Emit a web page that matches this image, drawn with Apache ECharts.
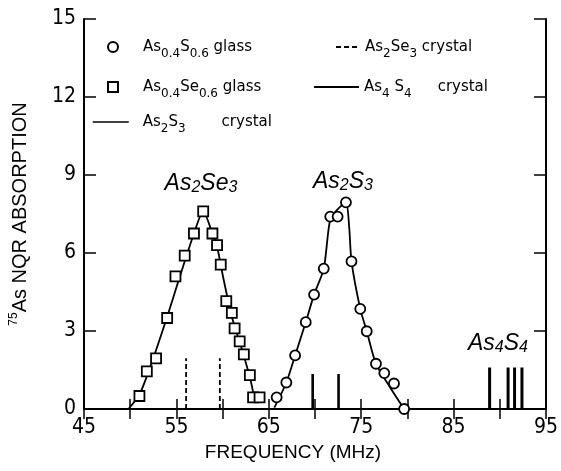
<!DOCTYPE html>
<html>
<head>
<meta charset="utf-8">
<title>75As NQR absorption</title>
<script src="https://cdn.jsdelivr.net/npm/echarts@6/dist/echarts.min.js"></script>
<style>
  html, body { margin: 0; padding: 0; background: #fff; }
  #main { width: 561px; height: 471px; }
</style>
</head>
<body>
<div id="main"></div>
<script>
  // As0.4Se0.6 glass (squares) and the drawn curve through them
  var seGlassFreq = [51.0, 51.8, 52.8, 54.0, 54.9, 55.9, 56.9, 57.9, 58.9, 59.4, 59.8, 60.4, 61.0, 61.3, 61.85, 62.3, 62.95, 63.3, 64.0]
  var seGlassAbs = [0.5, 1.45, 1.95, 3.5, 5.1, 5.9, 6.75, 7.6, 6.75, 6.3, 5.55, 4.15, 3.7, 3.1, 2.6, 2.1, 1.3, 0.45, 0.45]
  var seCurveFreq = [49.8, 51.0, 52.3, 54.0, 55.2, 56.9, 57.9, 58.9, 59.4, 60.1, 61.0, 62.0, 63.0, 63.5]
  var seCurveAbs = [0, 0.55, 1.75, 3.55, 4.9, 6.75, 7.6, 6.75, 6.25, 5.0, 3.55, 2.4, 1.15, 0.3]

  // As0.4S0.6 glass (circles) and its curve
  var sGlassFreq = [65.85, 66.9, 67.85, 69.0, 69.9, 70.95, 71.65, 72.45, 73.35, 73.95, 74.9, 75.6, 76.6, 77.5, 78.55, 79.65]
  var sGlassAbs = [0.45, 1.02, 2.06, 3.34, 4.4, 5.4, 7.4, 7.4, 7.95, 5.68, 3.85, 2.99, 1.74, 1.38, 0.98, 0]
  var sCurveFreq = [65.6, 66.9, 67.85, 69.0, 69.9, 70.95, 71.65, 72.5, 73.35, 73.7, 73.95, 74.9, 75.6, 76.6, 78.1, 79.65]
  var sCurveAbs = [0.05, 1.02, 2.06, 3.34, 4.4, 5.4, 7.3, 7.7, 7.95, 7.0, 5.68, 3.85, 2.99, 1.74, 0.85, 0]

  // crystal lines (position, height)
  var as2se3Freq = [56.05, 59.7]
  var as2se3Height = 1.95
  var as2s3Freq = [69.75, 72.55]
  var as2s3Height = 1.35
  var as4s4Freq = [88.9, 90.9, 91.6, 92.4]
  var as4s4Height = 1.6

  var xMin = 45, xMax = 95, xStep = 5
  var yMin = 0, yMax = 15, yStep = 3

  var numFont = "'Liberation Sans Narrow', 'DejaVu Sans Condensed', sans-serif"
  var titleFont = "'Liberation Sans', Arial, sans-serif"
  var legFont = "'DejaVu Sans', sans-serif"

  function pairs(xs, ys) {
    return xs.map(function(x, i) { return [x, ys[i]] })
  }

  function sticks(name, freqs, h, lineStyle) {
    return freqs.map(function(f) {
      return {
        name: name,
        type: 'line',
        symbol: 'none',
        silent: true,
        color: '#000',
        // hides the marker in the legend icon, keeps the line
        itemStyle: { color: '#000', opacity: 0 },
        lineStyle: lineStyle,
        data: [[f, 0], [f, h]]
      }
    })
  }

  var legendText = {
    'As0.4S0.6 glass': 'As{s|0.4}S{s|0.6} glass',
    'As0.4Se0.6 glass': 'As{s|0.4}Se{s|0.6} glass',
    'As2S3 crystal': 'As{s|2}S{s|3}{g| }crystal',
    'As2Se3 crystal': 'As{s|2}Se{s|3} crystal',
    'As4S4 crystal': 'As{s|4} S{s|4}{h| }crystal'
  }

  function legendBox(name, left, centerY, icon, width, extra) {
    var lg = {
      data: [icon ? { name: name, icon: icon } : { name: name }],
      left: left,
      top: centerY - 13,
      padding: 0,
      itemWidth: width,
      itemHeight: icon ? 10 : 14,
      selectedMode: false,
      formatter: function(n) { return legendText[n] },
      textStyle: {
        fontFamily: legFont,
        fontSize: 15,
        color: '#000',
        lineHeight: 26,
        padding: [0, 0, 0, extra || 0],
        rich: {
          s: { fontFamily: legFont, fontSize: 12, lineHeight: 12, verticalAlign: 'bottom', color: '#000' },
          g: { width: 36 },
          h: { width: 26 }
        }
      }
    }
    return lg
  }

  var chart = echarts.init(document.getElementById('main'))

  var series = [
    {
      name: 'As2Se3 curve',
      type: 'line',
      smooth: 0.25,
      symbol: 'none',
      silent: true,
      lineStyle: { color: '#000', width: 1.8 },
      data: pairs(seCurveFreq, seCurveAbs),
      z: 2
    },
    {
      name: 'As2S3 curve',
      type: 'line',
      smooth: 0.25,
      symbol: 'none',
      silent: true,
      lineStyle: { color: '#000', width: 1.8 },
      data: pairs(sCurveFreq, sCurveAbs),
      z: 2
    },
    {
      name: 'As0.4S0.6 glass',
      type: 'scatter',
      symbol: 'circle',
      symbolSize: 10,
      itemStyle: { color: '#fff', borderColor: '#000', borderWidth: 1.8, opacity: 1 },
      data: pairs(sGlassFreq, sGlassAbs),
      z: 3
    },
    {
      name: 'As0.4Se0.6 glass',
      type: 'scatter',
      symbol: 'rect',
      symbolSize: 10,
      itemStyle: { color: '#fff', borderColor: '#000', borderWidth: 1.8, opacity: 1 },
      data: pairs(seGlassFreq, seGlassAbs),
      z: 3
    }
  ]
  series = series
    .concat(sticks('As2Se3 crystal', as2se3Freq, as2se3Height, { color: '#000', width: 1.8, type: [5, 3] }))
    .concat(sticks('As2S3 crystal', as2s3Freq, as2s3Height, { color: '#000', width: 2.6 }))
    .concat(sticks('As4S4 crystal', as4s4Freq, as4s4Height, { color: '#000', width: 3 }))

  var l3 = legendBox('As2S3 crystal', 92, 122, null, 36, 9)
  l3.lineStyle = { width: 1.5 }

  chart.setOption({
    animation: false,
    backgroundColor: '#fff',
    grid: { left: 82, right: 13, top: 19, bottom: 62 },
    legend: [
      legendBox('As0.4S0.6 glass', 107, 47, 'circle', 10, 20),
      legendBox('As0.4Se0.6 glass', 107, 87, 'rect', 10, 20),
      l3,
      legendBox('As2Se3 crystal', 335, 47, null, 24, 0),
      legendBox('As4S4 crystal', 313, 87, null, 45, 0)
    ],
    xAxis: [{
      type: 'value',
      min: xMin,
      max: xMax,
      interval: xStep,
      name: 'FREQUENCY (MHz)',
      nameLocation: 'middle',
      nameGap: 27,
      nameTextStyle: { fontFamily: titleFont, fontSize: 19, color: '#000', padding: [0, 44, 0, 0] },
      axisLine: { lineStyle: { color: '#000', width: 2 } },
      axisTick: { inside: true, length: 10, lineStyle: { color: '#000', width: 1.5 } },
      axisLabel: {
        margin: 8,
        fontFamily: numFont,
        fontSize: 21,
        color: '#000',
        formatter: function(v) { return (v - xMin) % 10 === 0 ? String(v) : '' }
      },
      splitLine: { show: false }
    }, {
      type: 'value',
      position: 'top',
      min: xMin,
      max: xMax,
      interval: xStep,
      axisLine: { lineStyle: { color: '#000', width: 2 } },
      axisTick: { inside: true, length: 10, lineStyle: { color: '#000', width: 1.5 } },
      axisLabel: { show: false },
      splitLine: { show: false }
    }],
    yAxis: [{
      type: 'value',
      min: yMin,
      max: yMax,
      interval: yStep,
      name: '{sup|75}{m|As NQR ABSORPTION}',
      nameLocation: 'middle',
      nameGap: 52,
      nameTextStyle: {
        fontFamily: titleFont,
        fontSize: 19,
        color: '#000',
        rich: {
          sup: { fontFamily: titleFont, fontSize: 12, lineHeight: 12, verticalAlign: 'top', color: '#000' },
          m: { fontFamily: titleFont, fontSize: 20, lineHeight: 24, color: '#000' }
        }
      },
      axisLine: { show: true, lineStyle: { color: '#000', width: 2 } },
      axisTick: { show: true, inside: true, length: 12, lineStyle: { color: '#000', width: 1.5 } },
      axisLabel: { margin: 8, fontFamily: numFont, fontSize: 21, color: '#000' },
      splitLine: { show: false }
    }, {
      type: 'value',
      position: 'right',
      min: yMin,
      max: yMax,
      interval: yStep,
      axisLine: { show: true, lineStyle: { color: '#000', width: 2 } },
      axisTick: { show: true, inside: true, length: 12, lineStyle: { color: '#000', width: 1.5 } },
      axisLabel: { show: false },
      splitLine: { show: false }
    }],
    graphic: [
      {
        type: 'text', x: 201, y: 184,
        style: {
          text: 'As{s|2}Se{s|3}', align: 'center', verticalAlign: 'middle',
          font: 'italic 23px ' + titleFont, fill: '#000',
          rich: { s: { fontSize: 16, lineHeight: 12, verticalAlign: 'bottom', fontStyle: 'italic' } }
        }
      },
      {
        type: 'text', x: 343, y: 182,
        style: {
          text: 'As{s|2}S{s|3}', align: 'center', verticalAlign: 'middle',
          font: 'italic 23px ' + titleFont, fill: '#000',
          rich: { s: { fontSize: 16, lineHeight: 12, verticalAlign: 'bottom', fontStyle: 'italic' } }
        }
      },
      {
        type: 'text', x: 498, y: 344,
        style: {
          text: 'As{s|4}S{s|4}', align: 'center', verticalAlign: 'middle',
          font: 'italic 23px ' + titleFont, fill: '#000',
          rich: { s: { fontSize: 16, lineHeight: 12, verticalAlign: 'bottom', fontStyle: 'italic' } }
        }
      }
    ],
    series: series
  })
</script>
</body>
</html>
